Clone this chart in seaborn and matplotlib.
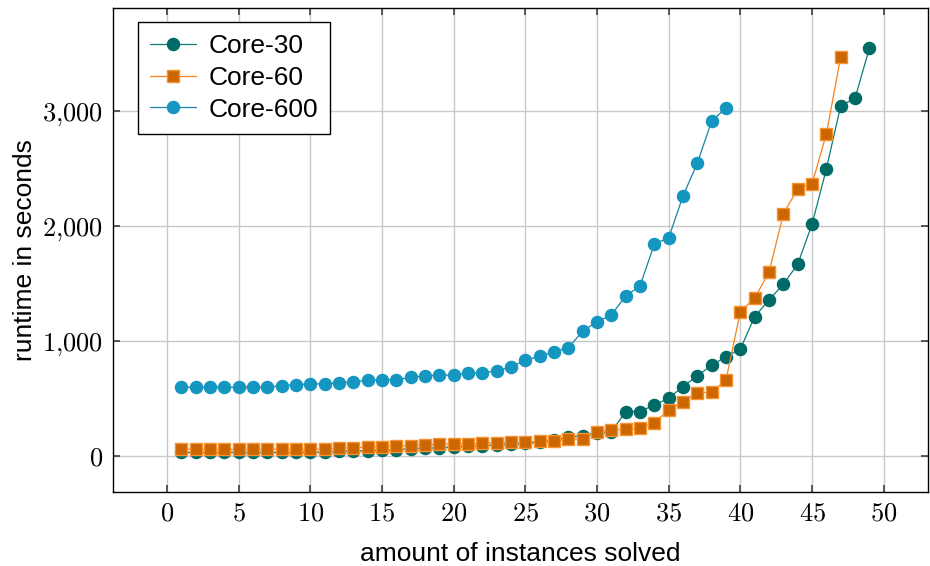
import numpy as np
import pandas as pd
import matplotlib
matplotlib.use("Agg")
import matplotlib.pyplot as plt
import seaborn as sns
from matplotlib.ticker import FuncFormatter

# datos
core30 = [30, 30, 30, 30, 30, 30, 30, 30, 30, 30,
          35, 38, 42, 45, 50, 55, 62, 68, 72, 78,
          85, 90, 96, 102, 110, 118, 135, 162, 177, 200,
          210, 385, 385, 443, 501, 603, 696, 788, 864, 930,
          1211, 1357, 1493, 1667, 2015, 2496, 3046, 3110, 3545]
core60 = [58, 58, 58, 58, 58, 58, 58, 58, 58, 58,
          58, 67, 72, 75, 80, 88, 90, 96, 100, 104,
          104, 110, 116, 118, 120, 125, 133, 145, 148, 211,
          226, 232, 241, 290, 400, 472, 550, 554, 661, 1255,
          1374, 1597, 2104, 2322, 2365, 2800, 3470]
core600 = [597, 597, 597, 597, 597, 597, 597, 609, 620, 626,
           626, 635, 643, 658, 663, 663, 682, 696, 701, 703,
           722, 722, 739, 774, 832, 867, 906, 939, 1087, 1165,
           1226, 1391, 1478, 1843, 1896, 2261, 2548, 2913, 3026]

series = [
    ("Core-30", core30, "o", "#006B66", "#006B66", "#0B7C78"),
    ("Core-60", core60, "s", "#CC6600", "#F7922E", "#F7821E"),
    ("Core-600", core600, "o", "#1496C0", "#1496C0", "#1A82A6"),
]

sns.set_theme(style="whitegrid")
plt.rcParams["font.family"] = ["Liberation Sans", "DejaVu Sans"]
plt.rcParams["mathtext.fontset"] = "cm"
plt.rcParams["text.color"] = "black"
plt.rcParams["axes.labelcolor"] = "black"
plt.rcParams["xtick.color"] = "black"
plt.rcParams["ytick.color"] = "black"

fig = plt.figure(figsize=(9.3, 5.66), dpi=100)
ax = fig.add_axes([0.1215, 0.131, 0.8765, 0.855])

handles = []
for nombre, vals, mk, fc, ec, lc in series:
    ms = 8.7 if mk == "o" else 8.0
    df = pd.DataFrame({"x": np.arange(1, len(vals) + 1), "y": vals})
    sns.lineplot(data=df, x="x", y="y", ax=ax, color=lc, linewidth=0.9,
                 marker=mk, markersize=ms,
                 markerfacecolor=fc, markeredgecolor=ec, markeredgewidth=1.0)
    h, = ax.plot([], [], color=lc, linewidth=0.9, marker=mk, markersize=ms,
                 markerfacecolor=fc, markeredgecolor=ec, label=nombre)
    handles.append(h)

ax.set_xlim(-3.77, 53.1)
ax.set_ylim(-313, 3896)
ax.set_xticks(range(0, 51, 5))
ax.set_yticks([0, 1000, 2000, 3000])
ax.xaxis.set_major_formatter(FuncFormatter(lambda v, p: r"$%d$" % v))
ax.yaxis.set_major_formatter(FuncFormatter(
    lambda v, p: r"$%s$" % format(int(v), ",").replace(",", "{,}")))
ax.tick_params(axis="both", labelsize=19, direction="in", length=5,
               color="#444444", top=True, right=True, bottom=True, left=True,
               pad=7)
ax.grid(True, color="#C8C8C8", linewidth=1.0)
for s in ax.spines.values():
    s.set_color("black")
    s.set_linewidth(1.0)

ax.set_xlabel("amount of instances solved", fontsize=19, labelpad=12)
ax.set_ylabel("runtime in seconds", fontsize=19, labelpad=4)

leg = ax.legend(handles=handles, loc="upper left",
                bbox_to_anchor=(0.031, 0.971), fontsize=19, frameon=True,
                fancybox=False, edgecolor="black", framealpha=1,
                handlelength=1.75, handletextpad=0.45, borderpad=0.45,
                borderaxespad=0, labelspacing=0.3)
leg.get_frame().set_linewidth(1.0)

fig.savefig("out.png", dpi=100)
